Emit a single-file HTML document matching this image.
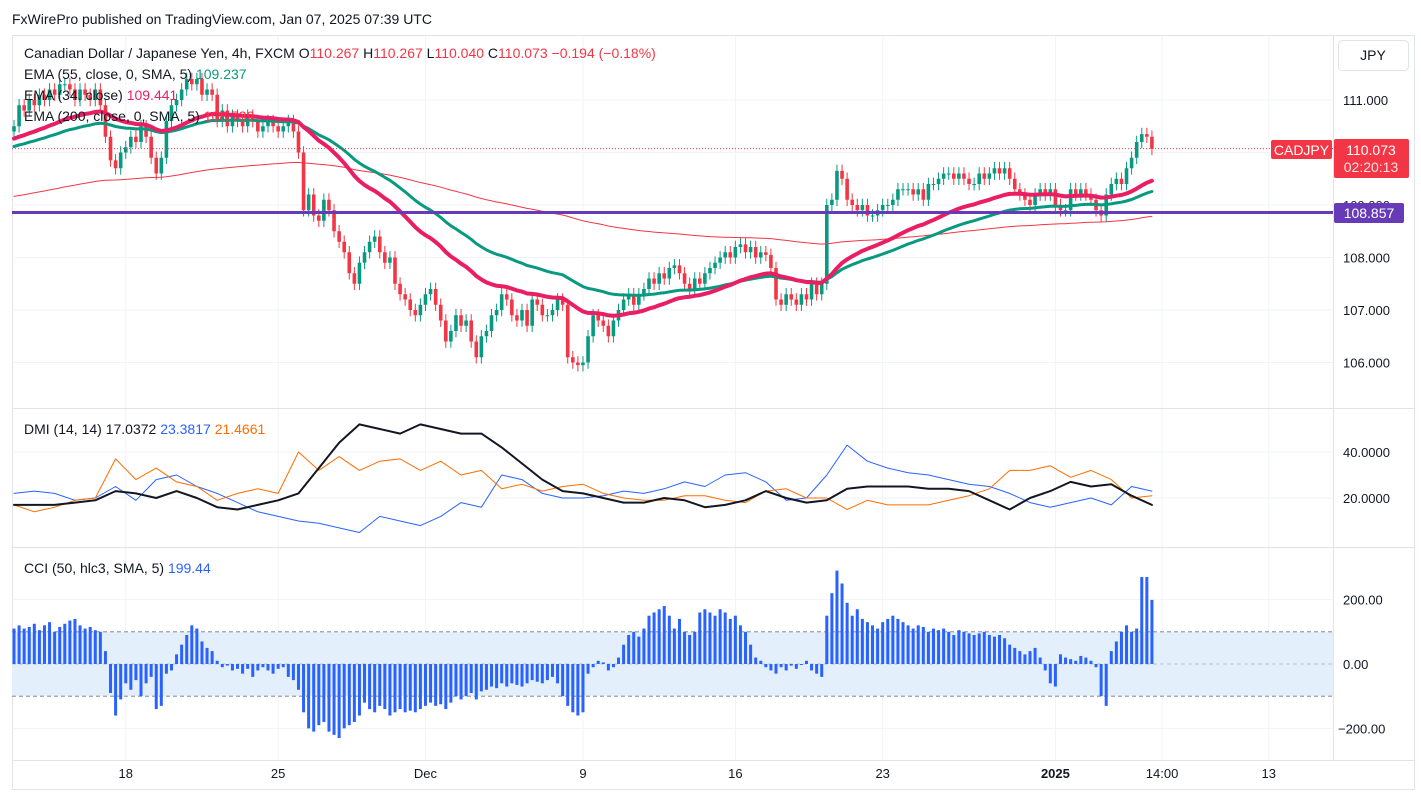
<!DOCTYPE html>
<html><head><meta charset="utf-8">
<style>
html,body{margin:0;padding:0;background:#fff;}
body{width:1421px;height:796px;overflow:hidden;font-family:"Liberation Sans",sans-serif;position:relative;}
svg text{font-family:"Liberation Sans",sans-serif;}
</style></head>
<body>
<svg id="chart" width="1421" height="796" xmlns="http://www.w3.org/2000/svg">
<rect x="0" y="0" width="1421" height="796" fill="#fff"/>
<text x="12" y="24" font-size="14" fill="#131722">FxWirePro published on TradingView.com, Jan 07, 2025 07:39 UTC</text>
<rect x="12.5" y="35.5" width="1402" height="754" fill="none" stroke="#e0e3eb"/>
<g id="grid"></g>
<rect x="12" y="632" width="1321" height="64" fill="#e3f0fb"/>
<g id="marks"></g>
<line x1="1333.5" y1="36" x2="1333.5" y2="760" stroke="#e0e3eb"/>
<line x1="12" y1="408.5" x2="1414" y2="408.5" stroke="#e0e3eb"/>
<line x1="12" y1="547.5" x2="1414" y2="547.5" stroke="#e0e3eb"/>
<line x1="12" y1="760.5" x2="1414" y2="760.5" stroke="#e0e3eb"/>
<g id="axes" font-size="13" fill="#131722"></g>
<rect x="1338.5" y="40.5" width="70" height="30" rx="4" fill="#fff" stroke="#e0e3eb"/>
<text x="1373" y="60" font-size="14" text-anchor="middle" fill="#131722">JPY</text>
<g font-size="14">
<text x="24" y="58" fill="#131722">Canadian Dollar / Japanese Yen, 4h, FXCM  O<tspan fill="#f23645">110.267</tspan>  H<tspan fill="#f23645">110.267</tspan>  L<tspan fill="#f23645">110.040</tspan>  C<tspan fill="#f23645">110.073</tspan>  <tspan fill="#f23645">−0.194 (−0.18%)</tspan></text>
<text x="24" y="79" fill="#131722">EMA (55, close, 0, SMA, 5)  <tspan fill="#089981">109.237</tspan></text>
<text x="24" y="100" fill="#131722">EMA (34, close)  <tspan fill="#e91e63">109.441</tspan></text>
<text x="24" y="121" fill="#131722">EMA (200, close, 0, SMA, 5)  <tspan fill="#f23645">108.739</tspan></text>
<text x="24" y="434" fill="#131722">DMI (14, 14)  17.0372  <tspan fill="#2962ff">23.3817</tspan>  <tspan fill="#ff6d00">21.4661</tspan></text>
<text x="24" y="573" fill="#131722">CCI (50, hlc3, SMA, 5)  <tspan fill="#2962ff">199.44</tspan></text>
</g>
<g>
<rect x="1271" y="140" width="61" height="19" rx="2" fill="#f23645"/>
<text x="1301.5" y="155" font-size="14" text-anchor="middle" fill="#fff">CADJPY</text>
<rect x="1334" y="139" width="75" height="39" rx="2" fill="#f23645"/>
<text x="1371" y="155" font-size="14" text-anchor="middle" fill="#fff">110.073</text>
<text x="1371" y="172" font-size="14" text-anchor="middle" fill="#fde0e3">02:20:13</text>
</g>
<g>
<rect x="1334" y="203" width="70" height="20" rx="2" fill="#673ab7"/>
<text x="1369" y="218" font-size="14" text-anchor="middle" fill="#fff">108.857</text>
</g>
</svg>
<script>
const closes=[110.5,110.9,110.8,111.0,110.9,111.1,111.0,111.2,111.1,111.3,
111.3,111.2,111.0,111.2,111.1,111.0,111.2,110.9,110.3,109.85,
109.7,110.0,110.1,110.3,110.2,110.5,110.3,109.9,109.6,109.9,
110.6,110.9,111.0,111.2,111.4,111.3,111.4,111.1,111.2,111.1,
110.6,110.8,110.5,110.7,110.6,110.5,110.7,110.6,110.4,110.5,
110.6,110.5,110.4,110.5,110.6,110.4,110.0,108.9,109.2,108.8,
108.7,109.1,108.9,108.5,108.3,108.1,107.7,107.5,107.9,108.1,
108.3,108.4,108.1,107.9,108.0,107.5,107.3,107.2,107.0,106.9,
107.1,107.3,107.4,107.1,106.8,106.4,106.6,106.9,106.7,106.8,
106.4,106.1,106.5,106.6,106.9,107.0,107.3,107.2,106.9,106.8,
107.0,106.7,107.2,107.1,106.9,106.9,107.0,107.2,107.1,106.1,
106.0,105.95,106.0,106.5,106.9,106.8,106.7,106.5,106.8,107.0,
107.2,107.3,107.1,107.3,107.4,107.6,107.5,107.7,107.6,107.8,
107.85,107.7,107.5,107.4,107.6,107.5,107.7,107.8,107.9,108.0,
108.1,108.0,108.2,108.25,108.1,108.2,108.0,108.1,108.05,107.8,
107.2,107.1,107.3,107.2,107.1,107.3,107.2,107.5,107.3,107.5,
109.0,109.1,109.65,109.5,109.1,109.0,108.9,109.0,108.8,108.8,
108.9,109.0,109.0,109.1,109.3,109.3,109.3,109.2,109.3,109.1,
109.4,109.4,109.5,109.6,109.6,109.5,109.6,109.5,109.4,109.4,
109.6,109.5,109.6,109.7,109.6,109.7,109.5,109.3,109.2,109.1,
109.0,109.2,109.3,109.2,109.3,109.0,108.9,108.9,109.3,109.2,
109.3,109.2,109.1,108.9,108.8,109.2,109.4,109.5,109.4,109.7,
109.9,110.2,110.35,110.3,110.07];
const cci=[110,120,110,115,125,105,120,130,100,115,
125,135,140,120,110,115,105,100,40,-90,
-160,-110,-60,-80,-50,-100,-60,-40,-140,-130,
-30,-20,30,60,90,120,110,70,50,40,
10,-10,-5,-20,-15,-30,-15,-40,-20,-10,
-20,-30,-15,-10,-40,-50,-80,-150,-200,-210,
-190,-180,-210,-220,-230,-200,-190,-180,-160,-120,
-140,-150,-130,-140,-160,-150,-140,-150,-145,-150,
-140,-130,-120,-130,-125,-140,-120,-100,-110,-100,
-90,-110,-85,-80,-70,-75,-60,-70,-60,-65,
-70,-60,-50,-55,-60,-50,-40,-60,-100,-130,
-150,-160,-150,-30,-10,10,5,-20,-10,20,
60,90,100,85,110,150,160,170,180,150,
110,140,100,90,100,160,170,160,150,170,
160,140,150,120,100,60,20,10,-10,-20,
-30,-10,-20,-5,-15,0,10,-20,-30,-40,
150,220,290,250,190,150,170,140,130,120,
110,130,140,150,140,130,120,110,120,115,
100,110,105,110,100,90,105,100,95,90,
95,100,90,85,90,80,60,50,40,30,
40,50,20,-20,-60,-70,30,20,15,10,
25,20,10,-10,-100,-130,40,70,100,120,
100,110,270,270,199];
const adx=[17,17,17,18,19,23,22,20,23,20,16,15,17,19,22,33,44,52,50,48,52,50,48,48,42,35,28,23,22,20,18,18,20,19,16,17,19,23,20,18,19,24,25,25,25,24,24,23,19,15,20,23,27,25,26,21,17];
const plusDI=[22,23,22,19,20,25,19,28,30,25,22,18,14,12,10,9,7,5,12,10,8,12,18,16,30,28,22,20,20,21,23,22,24,27,25,30,31,27,19,20,30,43,36,33,31,30,28,26,25,22,18,16,18,20,17,25,23];
const minusDI=[17,14,16,19,20,37,28,33,27,25,19,22,24,22,40,32,38,32,36,37,32,36,30,32,24,26,23,25,26,22,20,19,19,21,21,19,18,23,24,20,20,15,19,17,17,17,19,21,24,32,32,34,29,32,28,20,21];
const priceTicks=[111,110,109,108,107,106];
const dmiTicks=[40,20];
const cciTicks=[200,0,-200];
const timeLabels=["18","25","Dec","9","16","23","2025","14:00","13"];
const timeIdx=[22,52,81,112,142,171,205,226,247];

const NS="http://www.w3.org/2000/svg";
const X0=14,DX=5.08,PLOTR=1333;
const xOf=i=>X0+i*DX;
const yP=p=>100+(111-p)*52.5;
const yD=v=>544-v*2.3;
const yC=v=>664-v*0.322;
function mk(tag,attrs,parent){const e=document.createElementNS(NS,tag);for(const k in attrs)e.setAttribute(k,attrs[k]);parent.appendChild(e);return e;}
const grid=document.getElementById('grid'),marks=document.getElementById('marks'),axes=document.getElementById('axes');

// grid
priceTicks.forEach(p=>{const l=mk('line',{x1:12,x2:PLOTR,y1:yP(p),y2:yP(p),stroke:'#f0f3fa'},grid);

});
dmiTicks.forEach(v=>{const l=mk('line',{x1:12,x2:PLOTR,y1:yD(v),y2:yD(v),stroke:'#f0f3fa'},grid);

});
cciTicks.forEach(v=>{const l=mk('line',{x1:12,x2:PLOTR,y1:yC(v),y2:yC(v),stroke:'#f0f3fa'},grid);

});
timeIdx.forEach(i=>{const l=mk('line',{x1:xOf(i),x2:xOf(i),y1:36,y2:760,stroke:'#f0f3fa'},grid);

});

// CCI band lines
[100,-100].forEach(v=>{const l=mk('line',{x1:12,x2:PLOTR,y1:yC(v),y2:yC(v),stroke:'#787b86','stroke-dasharray':'4 3','stroke-width':0.8},marks);

});
{const l=mk('line',{x1:12,x2:PLOTR,y1:yC(0),y2:yC(0),stroke:'#b2b5be','stroke-dasharray':'4 3','stroke-width':0.8},marks);

}

// EMAs
function ema(n,seed){const a=2/(n+1);let e=seed;return closes.map(c=>{e=e+a*(c-e);return e;});}
const e200=ema(200,109.15),e55=ema(55,110.1),e34=ema(34,110.25);
function poly(vals,yf,step,color,w,name){const pts=vals.map((v,k)=>xOf(k*step).toFixed(1)+','+yf(v).toFixed(1)).join(' ');
const p=mk('polyline',{points:pts,fill:'none',stroke:color,'stroke-width':w,'stroke-linejoin':'round','stroke-linecap':'round'},marks);

}

// candles
closes.forEach((c,i)=>{const o=i?closes[i-1]:110.4;const up=c>=o;const col=up?'#089981':'#f23645';
const hi=Math.max(o,c)+0.12,lo=Math.min(o,c)-0.12,x=xOf(i);
const w=mk('line',{x1:x,x2:x,y1:yP(hi),y2:yP(lo),stroke:col,'stroke-width':1},marks);


const yt=yP(Math.max(o,c)),yb=yP(Math.min(o,c));
const b=mk('rect',{x:x-1.8,y:yt,width:3.6,height:Math.max(1,yb-yt),fill:col},marks);

});

poly(e200,yP,1,'#f23645',1,'ema200-line');
poly(e55,yP,1,'#089981',3,'ema55-line');
poly(e34,yP,1,'#e91e63',4,'ema34-line');

// horizontal line & last price line
{const l=mk('line',{x1:12,x2:PLOTR,y1:yP(108.857),y2:yP(108.857),stroke:'#673ab7','stroke-width':3},marks);


const d=mk('line',{x1:12,x2:PLOTR,y1:yP(110.073),y2:yP(110.073),stroke:'#f23645','stroke-width':1,'stroke-dasharray':'1 2'},marks);

}

// DMI
poly(plusDI,yD,4,'#2962ff',1,'dmi-plus-di');
poly(minusDI,yD,4,'#ff6d00',1,'dmi-minus-di');
poly(adx,yD,4,'#131722',2,'dmi-adx');

// CCI histogram
cci.forEach((v,i)=>{const y0=yC(0),y1=yC(v);const r=mk('rect',{x:xOf(i)-1.5,y:Math.min(y0,y1),width:3,height:Math.max(1,Math.abs(y1-y0)),fill:'#2962ff'},marks);

});

// axis labels
priceTicks.forEach(p=>{const t=mk('text',{x:1343,y:yP(p)+5},axes);t.textContent=p.toFixed(3);

});
dmiTicks.forEach(v=>{const t=mk('text',{x:1343,y:yD(v)+5},axes);t.textContent=v.toFixed(4);

});
cciTicks.forEach(v=>{const t=mk('text',{x:v<0?1338:1343,y:yC(v)+5},axes);t.textContent=(v<0?'−':'')+Math.abs(v).toFixed(2);

});
timeLabels.forEach((s,k)=>{const t=mk('text',{x:xOf(timeIdx[k]),y:778,'text-anchor':'middle'},axes);t.textContent=s;
if(s==='2025')t.setAttribute('font-weight','bold');

});
</script>
</body></html>
